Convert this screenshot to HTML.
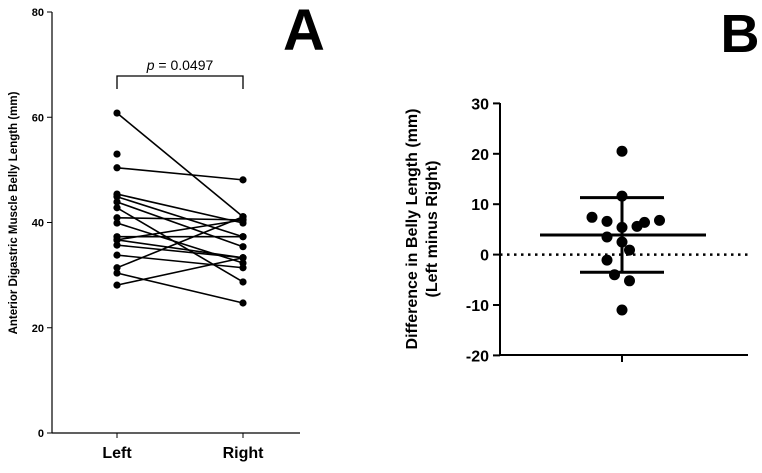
<!DOCTYPE html>
<html><head><meta charset="utf-8"><style>
body{margin:0;background:#fff;font-family:"Liberation Sans",Arial,sans-serif}
svg text{font-family:"Liberation Sans",Arial,sans-serif;font-weight:bold}
</style></head><body>
<svg id="c" width="762" height="468" viewBox="0 0 762 468">
<text x="304" y="50" font-size="58" text-anchor="middle">A</text>
<text x="740" y="52" font-size="54" text-anchor="middle">B</text>
<text transform="translate(17,213) rotate(-90)" font-size="11.5" text-anchor="middle">Anterior Digastric Muscle Belly Length (mm)</text>
<text transform="translate(417,229) rotate(-90)" font-size="16" text-anchor="middle">Difference in Belly Length (mm)</text>
<text transform="translate(437,229) rotate(-90)" font-size="16" text-anchor="middle">(Left minus Right)</text>
<g id="ga"></g>
<g id="gb"></g>
</svg>
<script>
const aTicks=[0,20,40,60,80];
const aCats=["Left","Right"];
const leftVals=[60.8,50.4,44.9,43.9,42.8,40.9,39.9,37.3,36.7,35.7,31.4,30.4,28.1,45.4,36.7,33.8,53.0];
const rightVals=[41.1,48.1,37.3,35.4,28.7,40.5,32.3,37.3,33.3,33.3,41.1,24.7,33.3,39.9,40.5,31.4,null];
const bTicks=[-20,-10,0,10,20,30];
const bVals=[20.5,11.6,7.4,6.6,5.4,5.6,6.4,6.8,3.5,2.5,0.9,-1.1,-4,-5.2,-11];
const bJitter=[0,0,-2,-1,0,1,1.5,2.5,-1,0,0.5,-1,-0.5,0.5,0];
const bMean=3.9, bSD=7.4;
const NS="http://www.w3.org/2000/svg";
function mk(p,t,a){const e=document.createElementNS(NS,t);for(const k in a)e.setAttribute(k,a[k]);p.appendChild(e);return e;}
const ga=document.getElementById('ga'),gb=document.getElementById('gb');
const ya=v=>433-v*(421/80);
const xa=i=>117+i*126;
let e=mk(ga,'line',{x1:52,y1:12,x2:52,y2:433,stroke:'#000','stroke-width':1.2});

e=mk(ga,'line',{x1:52,y1:433,x2:300,y2:433,stroke:'#000','stroke-width':1.2});

aTicks.forEach(v=>{mk(ga,'line',{x1:47,x2:52,y1:ya(v),y2:ya(v),stroke:'#000'});
e=mk(ga,'text',{x:44,y:ya(v)+4,'font-size':11,'text-anchor':'end'});e.textContent=v;
});
aCats.forEach((c,i)=>{mk(ga,'line',{x1:xa(i),x2:xa(i),y1:433,y2:438,stroke:'#000'});
e=mk(ga,'text',{x:xa(i),y:458,'font-size':16,'text-anchor':'middle'});e.textContent=c;
});
leftVals.forEach((l,i)=>{const r=rightVals[i];
if(r!==null){e=mk(ga,'line',{x1:xa(0),y1:ya(l),x2:xa(1),y2:ya(r),stroke:'#000','stroke-width':1.6});

e=mk(ga,'circle',{cx:xa(1),cy:ya(r),r:3.6});}
e=mk(ga,'circle',{cx:xa(0),cy:ya(l),r:3.6});});
e=mk(ga,'polyline',{points:`${xa(0)},89 ${xa(0)},76 ${xa(1)},76 ${xa(1)},89`,fill:'none',stroke:'#000','stroke-width':1.3});

e=mk(ga,'text',{x:180,y:70,'font-size':14,'text-anchor':'middle','font-weight':'normal'});
e.innerHTML='<tspan font-style="italic" font-weight="normal">p</tspan><tspan font-weight="normal"> = 0.0497</tspan>';

const yb=v=>254.6-v*5.04, cx=622;
e=mk(gb,'line',{x1:500,y1:103,x2:500,y2:355,stroke:'#000','stroke-width':2});

e=mk(gb,'line',{x1:500,y1:355,x2:748,y2:355,stroke:'#000','stroke-width':2});

mk(gb,'line',{x1:cx,x2:cx,y1:355,y2:362,stroke:'#000','stroke-width':2});
bTicks.forEach(v=>{mk(gb,'line',{x1:493,x2:500,y1:yb(v),y2:yb(v),stroke:'#000','stroke-width':2});
e=mk(gb,'text',{x:489,y:yb(v)+6,'font-size':16,'text-anchor':'end'});e.textContent=v;
});
e=mk(gb,'line',{x1:500,x2:748,y1:yb(0),y2:yb(0),stroke:'#000','stroke-width':2.5,'stroke-dasharray':'2.5 4.5'});

e=mk(gb,'line',{x1:540,x2:706,y1:yb(bMean),y2:yb(bMean),stroke:'#000','stroke-width':3});

e=mk(gb,'line',{x1:cx,x2:cx,y1:yb(bMean+bSD),y2:yb(bMean-bSD),stroke:'#000','stroke-width':3});

[bMean+bSD,bMean-bSD].forEach(v=>{e=mk(gb,'line',{x1:580,x2:664,y1:yb(v),y2:yb(v),stroke:'#000','stroke-width':3});
});
bVals.forEach((v,i)=>{e=mk(gb,'circle',{cx:cx+bJitter[i]*15,cy:yb(v),r:5.5});
});
</script>
</body></html>
